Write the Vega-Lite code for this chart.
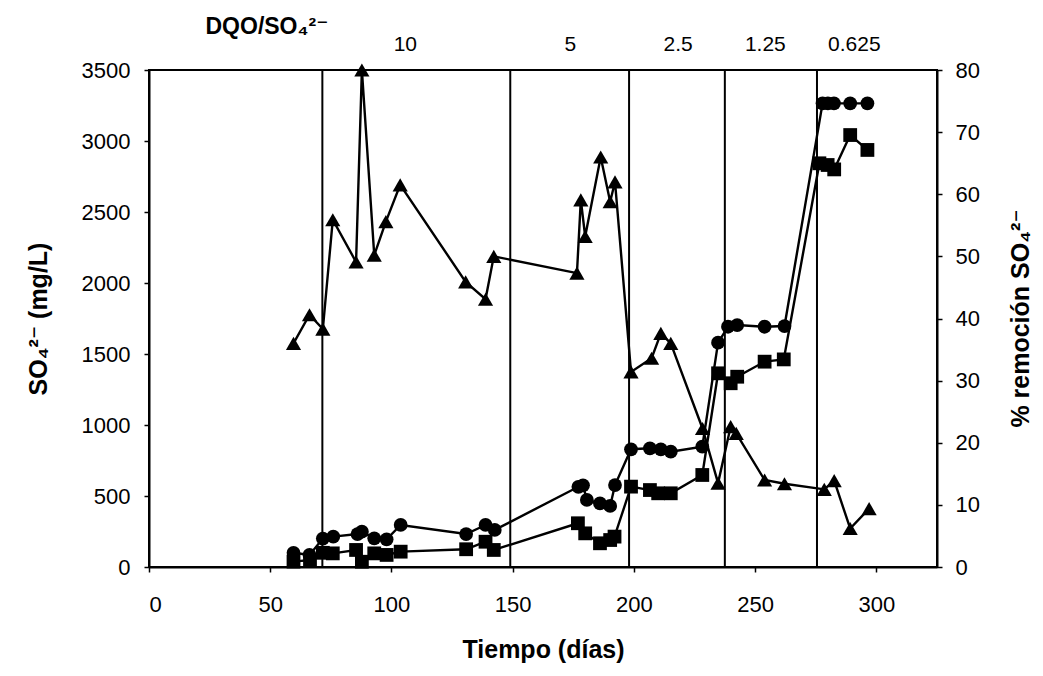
{
  "$schema": "https://vega.github.io/schema/vega-lite/v6.json",
  "width": 788,
  "height": 497,
  "autosize": {"type": "none"},
  "padding": {"left": 149, "top": 70, "right": 106, "bottom": 109},
  "background": "white",
  "config": {
    "view": {"stroke": "black", "strokeWidth": 2},
    "font": "Liberation Sans, DejaVu Sans, Arial",
    "axis": {
      "grid": false,
      "domainColor": "black",
      "domainWidth": 2,
      "tickColor": "black",
      "tickWidth": 1.5,
      "tickSize": 5,
      "labelColor": "black",
      "labelFont": "Liberation Sans, DejaVu Sans, Arial",
      "labelFontSize": 22,
      "titleFont": "Liberation Sans, DejaVu Sans, Arial",
      "titleFontSize": 25,
      "titleFontWeight": "bold",
      "titleColor": "black"
    }
  },
  "datasets": {
    "phases": [
      {"day": 71.5},
      {"day": 149},
      {"day": 198},
      {"day": 237.5},
      {"day": 275.5}
    ],
    "sulfate": [
      {"day": 59.6, "mg": 100, "series": "circle"},
      {"day": 66.2, "mg": 85, "series": "circle"},
      {"day": 71.7, "mg": 200, "series": "circle"},
      {"day": 76.0, "mg": 214, "series": "circle"},
      {"day": 86.0, "mg": 232, "series": "circle"},
      {"day": 87.8, "mg": 249, "series": "circle"},
      {"day": 92.9, "mg": 202, "series": "circle"},
      {"day": 98.0, "mg": 195, "series": "circle"},
      {"day": 103.8, "mg": 296, "series": "circle"},
      {"day": 130.8, "mg": 232, "series": "circle"},
      {"day": 138.8, "mg": 296, "series": "circle"},
      {"day": 142.6, "mg": 261, "series": "circle"},
      {"day": 177.1, "mg": 565, "series": "circle"},
      {"day": 179.0, "mg": 575, "series": "circle"},
      {"day": 180.6, "mg": 472, "series": "circle"},
      {"day": 186.0, "mg": 448, "series": "circle"},
      {"day": 190.2, "mg": 430, "series": "circle"},
      {"day": 192.2, "mg": 577, "series": "circle"},
      {"day": 198.8, "mg": 829, "series": "circle"},
      {"day": 206.6, "mg": 836, "series": "circle"},
      {"day": 211.1, "mg": 829, "series": "circle"},
      {"day": 215.2, "mg": 812, "series": "circle"},
      {"day": 228.2, "mg": 847, "series": "circle"},
      {"day": 234.7, "mg": 1580, "series": "circle"},
      {"day": 238.8, "mg": 1692, "series": "circle"},
      {"day": 242.6, "mg": 1704, "series": "circle"},
      {"day": 253.9, "mg": 1692, "series": "circle"},
      {"day": 262.1, "mg": 1697, "series": "circle"},
      {"day": 277.8, "mg": 3265, "series": "circle"},
      {"day": 280.0, "mg": 3265, "series": "circle"},
      {"day": 282.5, "mg": 3265, "series": "circle"},
      {"day": 289.2, "mg": 3265, "series": "circle"},
      {"day": 296.3, "mg": 3265, "series": "circle"},
      {"day": 59.6, "mg": 38, "series": "square"},
      {"day": 66.4, "mg": 49, "series": "square"},
      {"day": 71.7, "mg": 100, "series": "square"},
      {"day": 75.8, "mg": 96, "series": "square"},
      {"day": 85.4, "mg": 120, "series": "square"},
      {"day": 87.8, "mg": 37, "series": "square"},
      {"day": 92.9, "mg": 96, "series": "square"},
      {"day": 98.0, "mg": 85, "series": "square"},
      {"day": 103.8, "mg": 108, "series": "square"},
      {"day": 130.8, "mg": 125, "series": "square"},
      {"day": 138.8, "mg": 178, "series": "square"},
      {"day": 142.2, "mg": 120, "series": "square"},
      {"day": 176.9, "mg": 308, "series": "square"},
      {"day": 179.9, "mg": 237, "series": "square"},
      {"day": 186.0, "mg": 167, "series": "square"},
      {"day": 190.2, "mg": 190, "series": "square"},
      {"day": 192.0, "mg": 214, "series": "square"},
      {"day": 198.8, "mg": 566, "series": "square"},
      {"day": 206.6, "mg": 542, "series": "square"},
      {"day": 210.0, "mg": 519, "series": "square"},
      {"day": 215.2, "mg": 519, "series": "square"},
      {"day": 228.2, "mg": 648, "series": "square"},
      {"day": 234.7, "mg": 1364, "series": "square"},
      {"day": 239.9, "mg": 1294, "series": "square"},
      {"day": 242.6, "mg": 1340, "series": "square"},
      {"day": 253.9, "mg": 1446, "series": "square"},
      {"day": 261.8, "mg": 1462, "series": "square"},
      {"day": 276.5, "mg": 2843, "series": "square"},
      {"day": 279.9, "mg": 2831, "series": "square"},
      {"day": 282.6, "mg": 2800, "series": "square"},
      {"day": 289.2, "mg": 3042, "series": "square"},
      {"day": 296.3, "mg": 2937, "series": "square"}
    ],
    "removal": [
      {"day": 59.6, "pct": 36.0},
      {"day": 66.2, "pct": 40.6},
      {"day": 71.7, "pct": 38.3},
      {"day": 75.8, "pct": 55.9},
      {"day": 85.4, "pct": 49.1},
      {"day": 87.8, "pct": 80.0},
      {"day": 92.9, "pct": 50.2},
      {"day": 97.7, "pct": 55.6},
      {"day": 103.6, "pct": 61.5},
      {"day": 130.6, "pct": 45.9},
      {"day": 138.8, "pct": 43.1},
      {"day": 142.2, "pct": 50.0},
      {"day": 176.5, "pct": 47.3},
      {"day": 178.1, "pct": 59.1},
      {"day": 179.9, "pct": 53.2},
      {"day": 186.3, "pct": 66.0},
      {"day": 190.2, "pct": 58.8},
      {"day": 192.2, "pct": 62.0},
      {"day": 198.8, "pct": 31.4},
      {"day": 207.3, "pct": 33.6},
      {"day": 211.1, "pct": 37.6},
      {"day": 215.2, "pct": 36.0},
      {"day": 228.3, "pct": 22.3},
      {"day": 234.7, "pct": 13.5},
      {"day": 239.9, "pct": 22.6},
      {"day": 242.2, "pct": 21.5},
      {"day": 253.9, "pct": 14.0},
      {"day": 262.1, "pct": 13.4},
      {"day": 278.5, "pct": 12.5},
      {"day": 282.6, "pct": 13.9},
      {"day": 289.2, "pct": 6.2},
      {"day": 297.0, "pct": 9.4}
    ]
  },
  "layer": [
    {
      "data": {"name": "phases"},
      "mark": {"type": "rule", "color": "black", "strokeWidth": 2},
      "encoding": {
        "x": {
          "field": "day",
          "type": "quantitative",
          "scale": {"domain": [0, 325], "nice": false, "zero": false},
          "axis": {
            "orient": "top",
            "values": [105.5, 173.6, 218, 254, 290.7],
            "labelExpr": "datum.value == 105.5 ? '10' : datum.value == 173.6 ? '5' : datum.value == 218 ? '2.5' : datum.value == 254 ? '1.25' : '0.625'",
            "ticks": false,
            "domain": false,
            "labelPadding": 16,
            "labelFontSize": 21,
            "title": "DQO/SO₄²⁻",
            "titleFontSize": 23,
            "titleAlign": "left",
            "titleAnchor": "start",
            "titleBaseline": "alphabetic",
            "titleX": 56,
            "titleY": -37
          }
        }
      }
    },
    {
      "data": {"name": "sulfate"},
      "encoding": {
        "x": {
          "field": "day",
          "type": "quantitative",
          "scale": {"domain": [0, 325], "nice": false, "zero": false},
          "axis": {
            "orient": "bottom",
            "values": [0, 50, 100, 150, 200, 250, 300],
            "format": "d",
            "labelPadding": 22,
            "title": "Tiempo (días)",
            "titlePadding": 22
          }
        },
        "y": {
          "field": "mg",
          "type": "quantitative",
          "scale": {"domain": [0, 3500], "nice": false},
          "axis": {
            "orient": "left",
            "values": [0, 500, 1000, 1500, 2000, 2500, 3000, 3500],
            "format": "d",
            "labelPadding": 14,
            "title": "SO₄²⁻  (mg/L)",
            "titlePadding": 30
          }
        }
      },
      "layer": [
        {
          "mark": {"type": "line", "color": "black", "strokeWidth": 2.4},
          "encoding": {"detail": {"field": "series", "type": "nominal"}}
        },
        {
          "mark": {"type": "point", "filled": true, "opacity": 1, "color": "black"},
          "encoding": {
            "shape": {
              "field": "series",
              "type": "nominal",
              "scale": {"domain": ["circle", "square"], "range": ["circle", "square"]},
              "legend": null
            },
            "size": {"value": 190}
          }
        }
      ]
    },
    {
      "data": {"name": "removal"},
      "encoding": {
        "x": {
          "field": "day",
          "type": "quantitative",
          "scale": {"domain": [0, 325], "nice": false, "zero": false},
          "axis": null
        },
        "y": {
          "field": "pct",
          "type": "quantitative",
          "scale": {"domain": [0, 80], "nice": false},
          "axis": {
            "orient": "right",
            "values": [0, 10, 20, 30, 40, 50, 60, 70, 80],
            "format": "d",
            "labelPadding": 13,
            "title": "% remoción SO₄²⁻",
            "titleAngle": 270,
            "titleAlign": "center",
            "titleBaseline": "middle",
            "titleX": 83,
            "titleY": 248
          }
        }
      },
      "layer": [
        {"mark": {"type": "line", "color": "black", "strokeWidth": 2.4}},
        {
          "mark": {"type": "point", "shape": "triangle-up", "filled": true, "opacity": 1, "color": "black", "size": 230}
        }
      ]
    }
  ],
  "resolve": {"scale": {"y": "independent"}, "axis": {"x": "independent"}}
}
